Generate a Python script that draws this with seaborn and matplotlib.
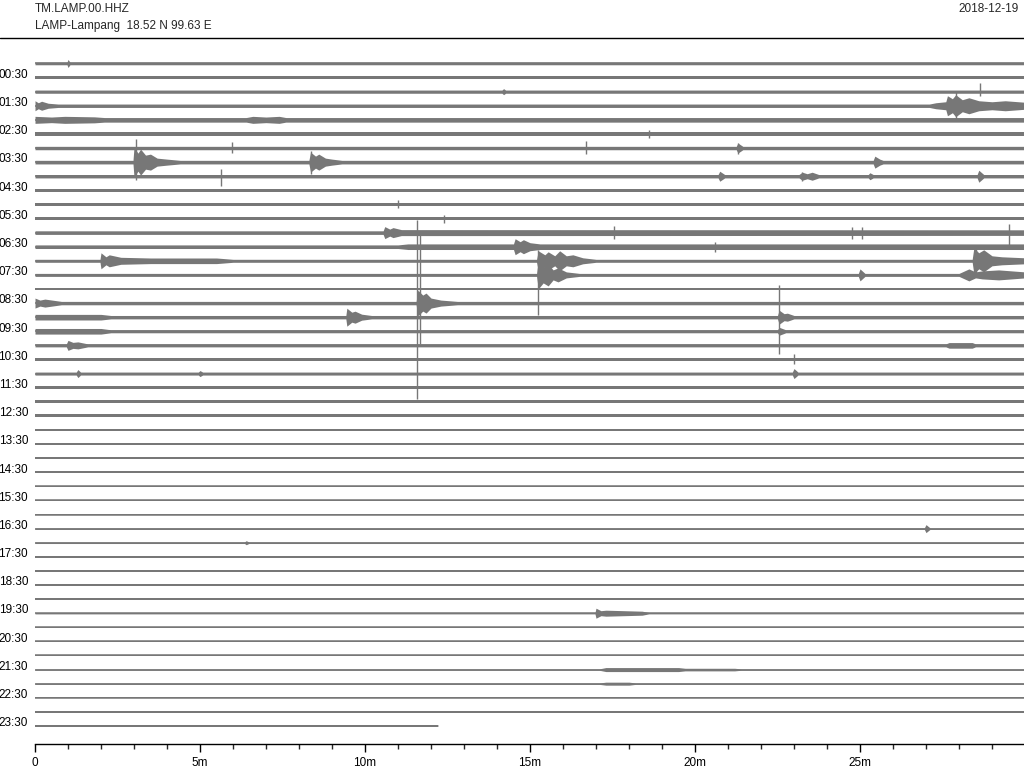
import pandas as pd
import seaborn as sns
import matplotlib.pyplot as plt
from matplotlib.lines import Line2D
from matplotlib.ticker import MultipleLocator

station = 'TM.LAMP.00.HHZ'
site = 'LAMP-Lampang  18.52 N 99.63 E'
day = '2018-12-19'

# one row = 30 minutes, labels on the rows that start at hh:30
row_labels = ['00:30', '01:30', '02:30', '03:30', '04:30', '05:30', '06:30', '07:30',
              '08:30', '09:30', '10:30', '11:30', '12:30', '13:30', '14:30', '15:30',
              '16:30', '17:30', '18:30', '19:30', '20:30', '21:30', '22:30', '23:30']
minute_ticks = [0, 5, 10, 15, 20, 25]
minute_labels = ['0', '5m', '10m', '15m', '20m', '25m']

# background noise half-width of each row (counts)
noise = [1.3, 1.3, 1.6, 1.7, 2.3, 1.7, 1.7, 1.8, 1.7, 1.5,
         1.7, 1.4, 1.8, 1.8, 1.5, 1.5, 1.4, 1.7, 1.7, 1.5,
         1.5, 1.4, 1.5, 1.5, 1.4, 1.4, 1.2, 0.9, 0.9, 0.8,
         0.8, 0.8, 0.8, 0.8, 0.8, 0.7, 0.7, 0.7, 0.7, 0.7,
         0.7, 0.7, 0.7, 0.7, 0.7, 0.7, 0.7, 0.7]
last_row_end = 12.2  # minutes recorded in the 23:30 row

# envelope of the events: row -> [(minute, half-width)], None = row noise
events = {
    0: [(0.97, None), (1.0, 4.0), (1.06, None)],
    2: [(14.15, None), (14.2, 3.0), (14.26, None)],
    3: [(0.0, 5.0), (0.1, 3.0), (0.2, 4.5), (0.4, 2.5), (0.7, None),
        (27.1, None), (27.3, 3.0), (27.6, 4.0), (27.65, 10.0), (27.8, 7.0), (27.9, 11.0),
        (28.1, 6.0), (28.3, 8.0), (28.6, 5.0), (29.0, 4.0), (29.4, 5.0), (30.0, 3.5)],
    4: [(0.0, 3.5), (0.5, 2.8), (0.9, 3.5), (1.8, 3.0), (2.1, None),
        (6.4, None), (6.6, 3.5), (7.0, 2.8), (7.4, 3.5), (7.6, None)],
    6: [(21.25, None), (21.3, 5.0), (21.45, None)],
    7: [(2.97, None), (3.0, 15.0), (3.12, 9.0), (3.2, 13.0), (3.35, 7.0), (3.5, 8.0),
        (3.7, 4.0), (4.0, 3.0), (4.4, None),
        (8.3, None), (8.35, 10.0), (8.5, 6.0), (8.6, 8.0), (8.8, 4.0), (9.0, 3.0), (9.3, None),
        (25.4, None), (25.45, 6.0), (25.6, 3.0), (25.7, None)],
    8: [(20.7, None), (20.75, 5.0), (20.9, None),
        (23.15, None), (23.25, 4.0), (23.4, 2.5), (23.55, 4.0), (23.75, None),
        (25.25, None), (25.3, 3.5), (25.4, None),
        (28.55, None), (28.6, 6.0), (28.75, None)],
    12: [(10.55, None), (10.6, 6.0), (10.75, 3.5), (10.85, 5.0), (11.1, 3.0), (30.0, 2.8)],
    13: [(11.0, None), (11.3, 2.8), (14.5, 2.8), (14.55, 8.0), (14.7, 5.0), (14.8, 7.0),
         (15.0, 4.0), (15.3, 2.8), (30.0, 2.8)],
    14: [(1.97, None), (2.0, 8.0), (2.15, 4.0), (2.25, 6.0), (2.6, 3.5), (3.5, 2.8),
         (5.5, 2.8), (6.0, None),
         (15.2, None), (15.25, 10.0), (15.45, 6.0), (15.55, 9.0), (15.75, 5.0), (15.9, 10.0),
         (16.1, 5.0), (16.3, 6.0), (16.6, 3.0), (17.0, None),
         (28.4, None), (28.45, 13.0), (28.6, 8.0), (28.75, 11.0), (29.0, 5.0), (29.3, 4.0),
         (30.0, 3.0)],
    15: [(15.2, None), (15.25, 14.0), (15.4, 8.0), (15.55, 11.0), (15.7, 5.0), (15.85, 7.0),
         (16.1, 3.0), (16.5, None),
         (24.95, None), (25.0, 6.0), (25.15, None),
         (28.0, None), (28.3, 6.0), (28.5, 3.0), (28.7, 4.0), (29.2, 5.0), (30.0, 3.0)],
    17: [(0.0, 5.0), (0.15, 3.0), (0.3, 4.0), (0.8, None),
         (11.55, None), (11.6, 13.0), (11.75, 8.0), (11.85, 10.0), (12.0, 5.0),
         (12.3, 3.0), (12.8, None)],
    18: [(0.0, 2.8), (2.0, 2.8), (2.3, None),
         (9.42, None), (9.45, 9.0), (9.6, 5.0), (9.7, 6.0), (9.9, 3.0), (10.2, None),
         (22.5, None), (22.55, 7.0), (22.7, 3.5), (22.8, 4.0), (23.0, None)],
    19: [(0.0, 2.8), (2.0, 2.8), (2.3, None), (22.5, None), (22.55, 4.0), (22.75, None)],
    20: [(0.95, None), (1.0, 5.0), (1.15, 3.0), (1.3, 3.5), (1.6, None),
         (27.6, None), (27.7, 2.8), (28.4, 2.8), (28.5, None)],
    22: [(1.25, None), (1.3, 4.0), (1.38, None), (4.95, None), (5.0, 3.0), (5.08, None),
         (22.95, None), (23.0, 5.0), (23.12, None)],
    33: [(26.95, None), (27.0, 4.0), (27.12, None)],
    34: [(6.35, None), (6.4, 2.0), (6.48, None)],
    39: [(16.97, None), (17.0, 5.0), (17.15, 2.5), (17.3, 3.0), (18.4, 2.0), (18.6, None)],
    43: [(17.1, None), (17.3, 2.0), (19.5, 2.0), (19.7, 1.3), (21.2, 1.3), (21.4, None)],
    44: [(17.1, None), (17.3, 1.5), (18.0, 1.5), (18.2, None)],
}

# single large swings: (row, minute, up, down) in counts
spikes = [
    (2, 28.65, 9, 4), (3, 27.9, 14, 13), (5, 18.6, 4, 4), (6, 5.97, 6, 5),
    (6, 16.7, 7, 6), (7, 3.05, 23, 18), (7, 8.35, 11, 12), (8, 5.65, 7, 10),
    (10, 11.0, 4, 4), (11, 12.4, 4, 4), (12, 17.55, 7, 6), (12, 24.75, 6, 6),
    (12, 25.05, 6, 6), (12, 29.5, 9, 12), (13, 20.6, 5, 5), (15, 15.25, 25, 40),
    (17, 11.58, 83, 96), (17, 11.68, 68, 41), (18, 22.55, 32, 37), (21, 23.0, 5, 5),
    (14, 28.5, 16, 16), (8, 23.25, 4, 5), (6, 21.3, 5, 6),
]

counts_per_row = 14.1
trace_color = '#777777'
n_rows = len(noise)

sns.set_theme(style='white')
plt.rcParams['font.family'] = ['Liberation Sans', 'DejaVu Sans']

fig = plt.figure(figsize=(10.24, 7.68), dpi=100)
ax = fig.add_axes([35 / 1024, 24 / 768, 990 / 1024, 699 / 768])

# build the envelope table
recs = []
for r in range(n_rows):
    pts = [(m, noise[r] if a is None else a) for m, a in events.get(r, [])]
    if not pts or pts[0][0] > 0:
        pts = [(0.0, noise[r])] + pts
    if pts[-1][0] < 30:
        pts = pts + [(30.0, noise[r])]
    end = last_row_end if r == n_rows - 1 else 30.0
    for m, a in pts:
        if m <= end:
            recs.append((r, m, a))
    if end < 30:
        recs.append((r, end, noise[r]))
env = pd.DataFrame(recs, columns=['row', 'minute', 'amp'])

for r, g in env.groupby('row'):
    half = g['amp'] / counts_per_row
    ax.fill_between(g['minute'], r - half, r + half, color=trace_color, lw=0)

sns.lineplot(data=env, x='minute', y='row', units='row', estimator=None,
             color=trace_color, lw=1.1, ax=ax, legend=False)

for r, m, up, down in spikes:
    ax.vlines(m, r - up / counts_per_row, r + down / counts_per_row,
              color=trace_color, lw=1)

ax.set_xlim(0, 30)
ax.set_ylim(n_rows + 0.28, -1.31)

ax.set_yticks([2 * i + 1 - 0.3 for i in range(len(row_labels))])
ax.set_yticklabels(row_labels)
ax.tick_params(axis='y', length=0, pad=5, labelsize=8.5, colors='black')

ax.set_xticks(minute_ticks)
ax.set_xticklabels(minute_labels)
ax.xaxis.set_minor_locator(MultipleLocator(1))
ax.tick_params(axis='x', which='major', direction='out', length=6, width=1,
               bottom=True, pad=3, labelsize=8.5, colors='black')
ax.tick_params(axis='x', which='minor', direction='out', length=3.5, width=1,
               bottom=True)
ax.set_xlabel('')
ax.set_ylabel('')
for side in ['top', 'right', 'left']:
    ax.spines[side].set_visible(False)
ax.spines['bottom'].set_color('black')
ax.spines['bottom'].set_linewidth(1)

fig.text(35 / 1024, 1 - 9.5 / 768, station, fontsize=8.5, va='center', ha='left')
fig.text(35 / 1024, 1 - 25.5 / 768, site, fontsize=8.5, va='center', ha='left')
fig.text(1019 / 1024, 1 - 9.5 / 768, day, fontsize=8.5, va='center', ha='right')
fig.add_artist(Line2D([0, 1], [1 - 38 / 768, 1 - 38 / 768], color='black', lw=1))

fig.savefig('out.png', dpi=100)
